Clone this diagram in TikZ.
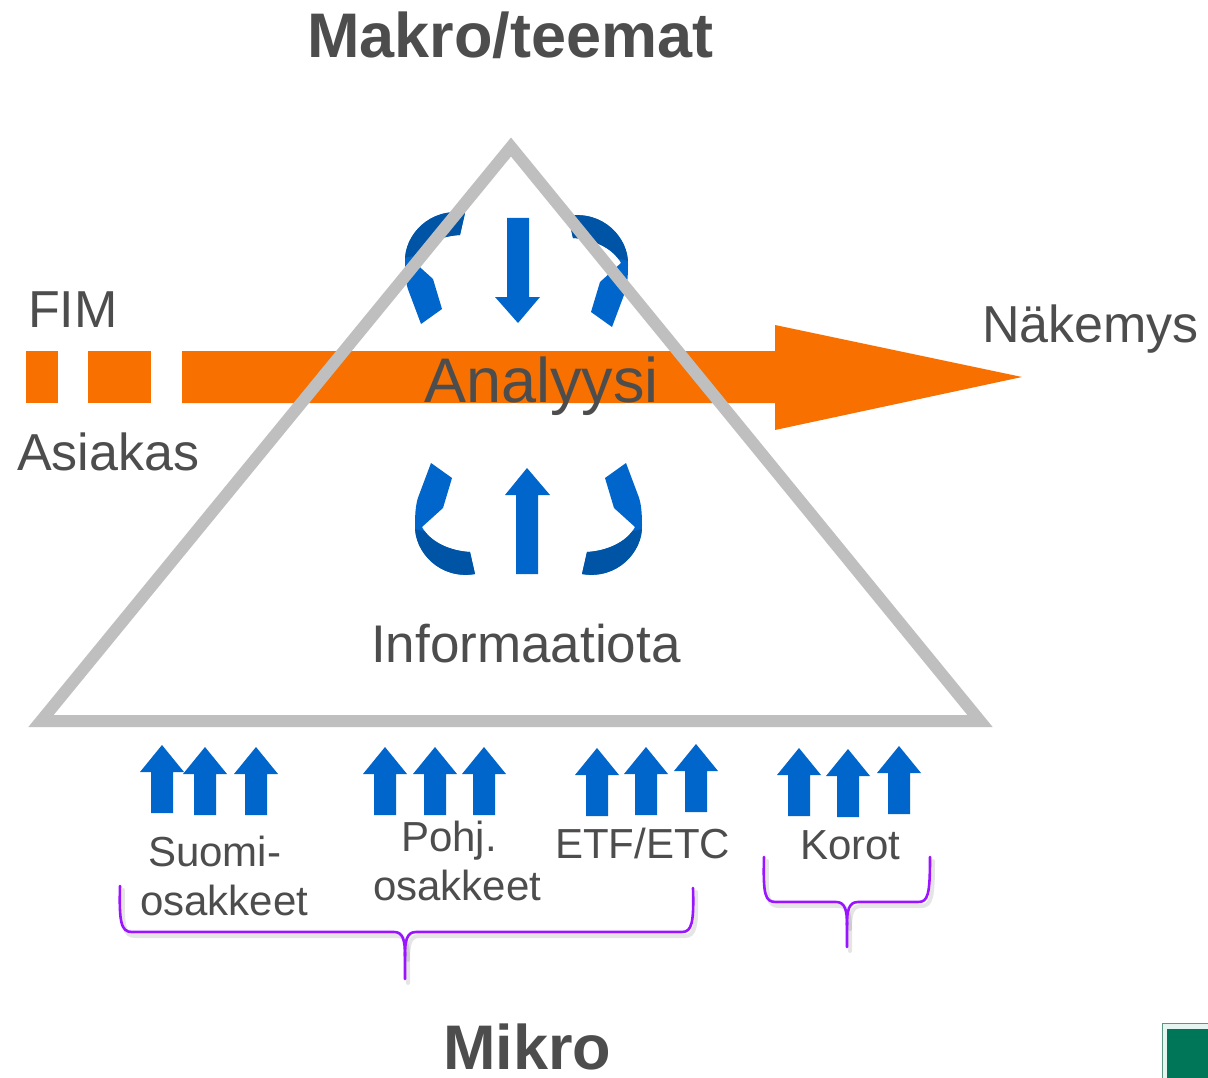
\documentclass[tikz,border=0pt]{standalone}
\usepackage{fontspec}
\setmainfont{Liberation Sans}
\definecolor{orng}{RGB}{247,112,0}
\definecolor{trigrey}{RGB}{191,191,191}
\definecolor{textgrey}{RGB}{77,77,77}
\definecolor{arrblue}{RGB}{0,102,204}
\definecolor{arrdark}{RGB}{0,84,166}
\definecolor{bracepurple}{RGB}{155,20,255}
\definecolor{fimgreen}{RGB}{0,118,88}
\definecolor{fimframe}{RGB}{90,150,130}
\definecolor{fimmint}{RGB}{230,245,240}
\newcommand\mybandpath{(465,213) .. controls (430,207) and (404,235) .. (405,262) .. controls (405,275) and (406,285) .. (409,292) -- (421,324) -- (442,309) -- (433,279) -- (412,260) .. controls (420,245) and (440,236) .. (460,235) -- cycle}
\newcommand\mycurvedarrow{%
  \fill[arrblue] \mybandpath;
  \begin{scope}
    \clip (380,200) -- (480,200) -- (480,245) -- (420,255) -- (380,262) -- cycle;
    \fill[arrdark] \mybandpath;
  \end{scope}
}
\begin{document}
\begin{tikzpicture}[x=1pt,y=-1pt,
  txt/.style={inner sep=0pt, anchor=base west, text=textgrey},
  bigbold/.style={txt, font=\fontsize{63}{70}\selectfont\bfseries},
  midtxt/.style={txt, font=\fontsize{52}{60}\selectfont},
  smalltxt/.style={txt, font=\fontsize{42}{48}\selectfont},
  bracestyle/.style={draw=bracepurple, line width=2.6pt, line cap=round, line join=round},
  braceshadow/.style={draw=black, draw opacity=0.10, line width=4pt, line cap=round, line join=round},
  uparrow/.pic={\fill[arrblue] (0,0) -- (22,27) -- (11,27) -- (11,68) -- (-11,68) -- (-11,27) -- (-22,27) -- cycle;}
]
\useasboundingbox (0,0) rectangle (1208,1078);
\fill[white] (0,0) rectangle (1208,1078);

% orange arrow
\fill[orng] (26,351) rectangle (58,403);
\fill[orng] (88,351) rectangle (151,403);
\fill[orng] (182,351) -- (775,351) -- (775,325) -- (1022,377) -- (775,430) -- (775,403) -- (182,403) -- cycle;

% curved arrows
\mycurvedarrow
\begin{scope}[shift={(1033,3)}, xscale=-1]
  \mycurvedarrow
\end{scope}
\begin{scope}[shift={(10,787)}, yscale=-1]
  \mycurvedarrow
\end{scope}
\begin{scope}[shift={(1047,787)}, xscale=-1, yscale=-1]
  \mycurvedarrow
\end{scope}

% straight arrows in triangle
\fill[arrblue] (507,218) -- (529,218) -- (529,297) -- (540,297) -- (518,323) -- (495,297) -- (507,297) -- cycle;
\fill[arrblue] (527,468) -- (550,495) -- (538,495) -- (538,574) -- (516,574) -- (516,495) -- (505,495) -- cycle;

% triangle
\draw[trigrey, line width=12pt, line join=miter] (511,147) -- (980,721) -- (41,721) -- cycle;

% bottom arrows
\pic at (162,745) {uparrow};
\pic at (205,747) {uparrow};
\pic at (256,747) {uparrow};
\pic at (385,747) {uparrow};
\pic at (435,747) {uparrow};
\pic at (484,747) {uparrow};
\pic at (597,748) {uparrow};
\pic at (646,747) {uparrow};
\pic at (696,744) {uparrow};
\pic at (799,748) {uparrow};
\pic at (848,749) {uparrow};
\pic at (899,746) {uparrow};

% texts
\node[bigbold] (makro) at (307,58) {Makro/teemat};
\node[bigbold] (mikro) at (443,1069) {Mikro};
\node[midtxt] (fim) at (28,327) {FIM};
\node[midtxt] (asiakas) at (17,470) {Asiakas};
\node[midtxt] (nakemys) at (982,342) {Näkemys};
\node[txt, font=\fontsize{63}{70}\selectfont] (analyysi) at (424,402) {Analyysi};
\node[midtxt, font=\fontsize{53}{60}\selectfont] (info) at (371,662) {Informaatiota};
\node[smalltxt] (suomi) at (148,866) {Suomi-};
\node[smalltxt] (suomios) at (140,915) {osakkeet};
\node[smalltxt] (pohj) at (401,851) {Pohj.};
\node[smalltxt] (pohjos) at (373,900) {osakkeet};
\node[smalltxt] (etf) at (555,858) {ETF/ETC};
\node[smalltxt] (korot) at (800,859) {Korot};

% braces
\begin{scope}[shift={(3,4)}]
\draw[braceshadow] (120,886) .. controls (119,922) and (121,932) .. (132,932) -- (394,932) .. controls (403,932) and (405,940) .. (405,956) -- (405,979);
\draw[braceshadow] (405,956) .. controls (405,940) and (407,932) .. (416,932) -- (682,932) .. controls (692,932) and (694,922) .. (693,888);
\draw[braceshadow] (764,857) .. controls (763,895) and (765,902) .. (776,902) -- (836,902) .. controls (845,902) and (847,910) .. (847,925) -- (847,947);
\draw[braceshadow] (847,925) .. controls (847,910) and (849,902) .. (858,902) -- (918,902) .. controls (928,902) and (930,895) .. (930,857);
\end{scope}
\draw[bracestyle] (120,886) .. controls (119,922) and (121,932) .. (132,932) -- (394,932) .. controls (403,932) and (405,940) .. (405,956) -- (405,979);
\draw[bracestyle] (405,956) .. controls (405,940) and (407,932) .. (416,932) -- (682,932) .. controls (692,932) and (694,922) .. (693,888);
\draw[bracestyle] (764,857) .. controls (763,895) and (765,902) .. (776,902) -- (836,902) .. controls (845,902) and (847,910) .. (847,925) -- (847,947);
\draw[bracestyle] (847,925) .. controls (847,910) and (849,902) .. (858,902) -- (918,902) .. controls (928,902) and (930,895) .. (930,857);

% logo corner
\fill[fimmint] (1162,1023) rectangle (1208,1078);
\draw[fimframe, line width=1.5pt] (1162.5,1078) -- (1162.5,1023.5) -- (1208,1023.5);
\fill[fimgreen] (1167,1029) rectangle (1208,1078);
\end{tikzpicture}
\end{document}
